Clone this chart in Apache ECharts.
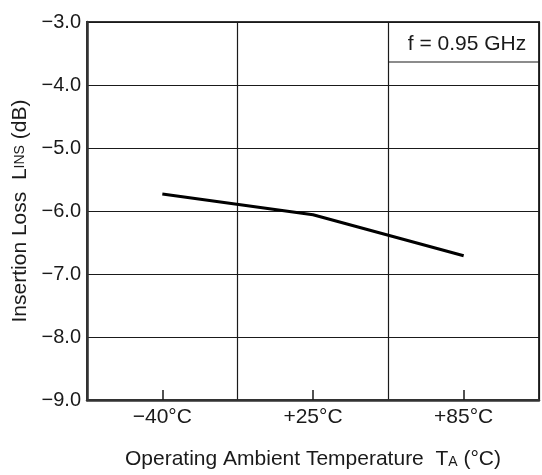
<!DOCTYPE html>
<html>
<head>
<meta charset="utf-8">
<script src="https://cdn.jsdelivr.net/npm/echarts@6/dist/echarts.min.js"></script>
<style>
  html, body { margin: 0; padding: 0; background: #fff; }
  #chart { width: 542px; height: 475px; }
</style>
</head>
<body>
<div id="chart"></div>
<script>
// 数据
const temps = ['−40°C', '+25°C', '+85°C'];
const insertionLoss = [-5.73, -6.06, -6.71];
const yTicks = { min: -9, max: -3, step: 1 };

const FONT = '"Liberation Sans", Arial, Helvetica, sans-serif';
const INK = '#1a1a1a';
const FS = 21;   // 主字号
const FS_SUB = 14; // 下标字号

// 初始化图表
const myChart = echarts.init(document.getElementById('chart'));

const option = {
  animation: false,
  backgroundColor: '#fff',
  textStyle: { fontFamily: FONT, color: INK },
  grid: {
    left: 87, right: 3, top: 22, bottom: 75,
    show: true, borderColor: '#333', borderWidth: 2
  },
  xAxis: {
    type: 'category',
    data: temps,
    boundaryGap: true,
    name: '{a|Operating Ambient Temperature  T}{b|A}{a| (°C)}',
    nameLocation: 'middle',
    nameGap: 49,
    nameTextStyle: {
      rich: {
        a: { fontSize: FS, fontFamily: FONT, color: INK },
        b: { fontSize: FS_SUB, fontFamily: FONT, color: INK, padding: [5, 0, 0, 0] }
      }
    },
    axisLine: { lineStyle: { color: '#333', width: 2.5 } },
    axisTick: { show: true, inside: true, alignWithLabel: true, length: 10, lineStyle: { color: INK, width: 1.5 } },
    axisLabel: { fontSize: FS, color: INK, margin: 7, fontFamily: FONT },
    splitLine: { show: true, lineStyle: { color: INK, width: 1.2 } }
  },
  yAxis: {
    type: 'value',
    min: yTicks.min,
    max: yTicks.max,
    interval: yTicks.step,
    name: '{a|Insertion Loss  L}{b|INS}{a| (dB)}',
    nameLocation: 'middle',
    nameRotate: 90,
    nameGap: 53,
    nameTextStyle: {
      rich: {
        a: { fontSize: FS, fontFamily: FONT, color: INK },
        b: { fontSize: FS_SUB, fontFamily: FONT, color: INK }
      }
    },
    axisLine: { show: true, lineStyle: { color: '#333', width: 2.5 } },
    axisTick: { show: false },
    axisLabel: {
      fontSize: 20, color: INK, margin: 6, fontFamily: FONT,
      formatter: v => v.toFixed(1).replace('-', '−')
    },
    splitLine: { show: true, lineStyle: { color: INK, width: 1.2 } }
  },
  series: [{
    type: 'line',
    data: insertionLoss,
    showSymbol: false,
    lineStyle: { color: '#000', width: 3 }
  }],
  // 注释框 f = 0.95 GHz
  graphic: [
    {
      type: 'line',
      shape: { x1: 389, y1: 62, x2: 539, y2: 62 },
      style: { stroke: INK, lineWidth: 1.2 }
    },
    {
      type: 'text',
      x: 467, y: 44,
      style: {
        text: 'f = 0.95 GHz',
        font: FS + 'px ' + FONT,
        fill: INK,
        align: 'center',
        verticalAlign: 'middle'
      }
    }
  ]
};

myChart.setOption(option);
</script>
</body>
</html>
